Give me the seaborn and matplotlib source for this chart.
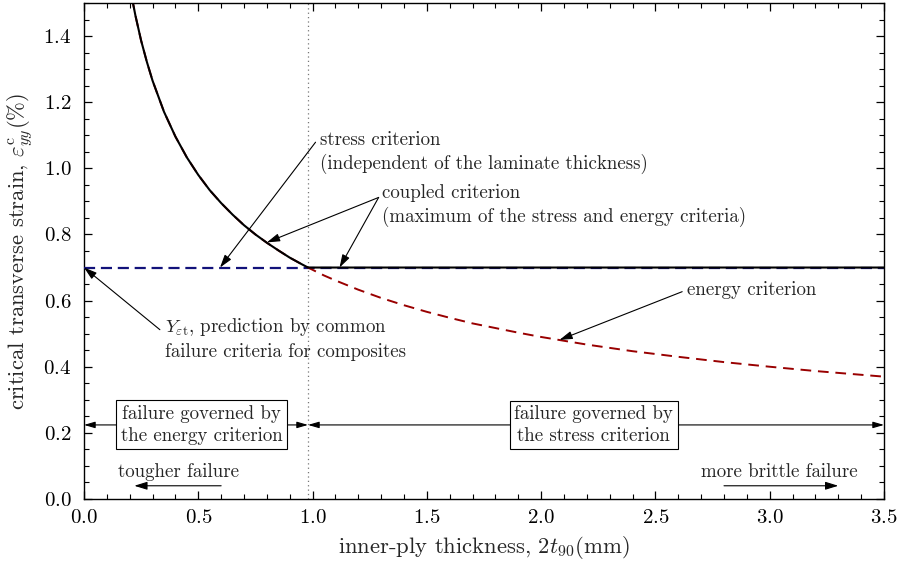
import numpy as np
import matplotlib
matplotlib.use("Agg")
import matplotlib.pyplot as plt
import matplotlib.transforms as mtransforms
from matplotlib.ticker import MultipleLocator
import seaborn as sns

# inner-ply thickness 2*t90 (mm) and critical strain from the energy criterion (%)
thickness = [0.20, 0.225, 0.25, 0.275, 0.30, 0.35, 0.40, 0.45, 0.50, 0.55, 0.60,
             0.65, 0.70, 0.75, 0.80, 0.85, 0.90, 0.95, 0.98, 1.05, 1.10, 1.20,
             1.30, 1.40, 1.50, 1.60, 1.70, 1.80, 1.90, 2.00, 2.20, 2.40, 2.60,
             2.80, 3.00, 3.20, 3.50]
energy_strain = [1.550, 1.462, 1.386, 1.322, 1.265, 1.171, 1.096, 1.033, 0.980,
                 0.934, 0.895, 0.860, 0.828, 0.800, 0.775, 0.752, 0.730, 0.711,
                 0.700, 0.676, 0.661, 0.633, 0.608, 0.586, 0.566, 0.548, 0.531,
                 0.517, 0.503, 0.490, 0.467, 0.447, 0.430, 0.414, 0.400, 0.387,
                 0.370]
# stress criterion: strength-based strain, independent of thickness
stress_strain = 0.70
# transition thickness between energy- and stress-governed failure
transition_t = 0.98

sns.set_theme(style="ticks")
plt.rcParams["font.family"] = ["cmr10"]
plt.rcParams["mathtext.fontset"] = "cm"
plt.rcParams["axes.formatter.use_mathtext"] = True
plt.rcParams["axes.unicode_minus"] = False

t = np.array(thickness)
e_energy = np.array(energy_strain)
e_stress = np.full_like(t, stress_strain)
e_coupled = np.maximum(e_energy, e_stress)

fig = plt.figure(figsize=(8.97, 5.72), dpi=100)
ax = fig.add_axes([84 / 897, 1 - 499 / 572, (884 - 84) / 897, (499 - 3) / 572])

navy = "#12127a"
dred = "#990000"

sns.lineplot(x=[0.0, 3.5], y=[stress_strain, stress_strain], ax=ax, color=navy,
             linewidth=1.6, linestyle=(0, (5, 2.6)), zorder=3)
sns.lineplot(x=t, y=e_energy, ax=ax, color=dred, linewidth=1.4,
             linestyle=(0, (5.5, 3.5)), zorder=3, sort=False)
sns.lineplot(x=t, y=e_coupled, ax=ax, color="black", linewidth=1.5, zorder=4,
             sort=False)

ax.axvline(transition_t, color="#777777", linestyle=(0, (1, 2.5)), linewidth=0.9,
           zorder=2)

ax.set_xlim(0, 3.5)
ax.set_ylim(0, 1.5)
ax.xaxis.set_major_locator(MultipleLocator(0.5))
ax.xaxis.set_minor_locator(MultipleLocator(0.1))
ax.yaxis.set_major_locator(MultipleLocator(0.2))
ax.yaxis.set_minor_locator(MultipleLocator(0.05))
ax.tick_params(which="both", direction="in", top=True, right=True, colors="black",
               labelsize=15)
ax.tick_params(axis="x", which="major", pad=7)
ax.tick_params(axis="y", which="major", pad=9)
ax.tick_params(which="major", length=5.5, width=0.9)
ax.tick_params(which="minor", length=3.5, width=0.8)
for s in ax.spines.values():
    s.set_linewidth(1.0)
    s.set_color("black")

# keep the last x tick label inside the canvas
fig.canvas.draw()
last = ax.get_xticklabels()[-1]
last.set_transform(last.get_transform()
                   + mtransforms.ScaledTranslation(-4 / 72, 0, fig.dpi_scale_trans))

ax.set_xlabel(r"inner-ply thickness, $2t_{90}(\mathrm{mm})$", fontsize=16.3,
              labelpad=5)
ax.set_ylabel(r"critical transverse strain, $\varepsilon_{yy}^{\mathrm{c}}(\%)$",
              fontsize=16.3, labelpad=6)

fs = 13.6
arrow = dict(arrowstyle="-|>,head_length=0.65,head_width=0.2", color="black",
             lw=0.8, shrinkA=0, shrinkB=0)

ax.text(1.031, 1.112, "stress criterion\n(independent of the laminate thickness)",
        fontsize=fs, ha="left", va="top", linespacing=1.3)
ax.annotate("", xy=(0.595, stress_strain), xytext=(1.013, 1.079), arrowprops=arrow)

ax.text(1.302, 0.952, "coupled criterion\n(maximum of the stress and energy criteria)",
        fontsize=fs, ha="left", va="top", linespacing=1.3)
ax.annotate("", xy=(0.80, 0.776), xytext=(1.289, 0.912), arrowprops=arrow)
ax.annotate("", xy=(1.118, stress_strain), xytext=(1.289, 0.912), arrowprops=arrow)

ax.text(2.639, 0.658, "energy criterion", fontsize=fs, ha="left", va="top")
ax.annotate("", xy=(2.08, 0.481), xytext=(2.617, 0.627), arrowprops=arrow)

ax.text(0.354, 0.552,
        r"$Y_{\varepsilon\mathrm{t}}$, prediction by common" + "\nfailure criteria for composites",
        fontsize=fs, ha="left", va="top", linespacing=1.3)
ax.annotate("", xy=(0.0, stress_strain), xytext=(0.332, 0.512), arrowprops=arrow)

# regions governed by each criterion
ybar = 0.224
rng = dict(arrowstyle="<|-|>,head_length=0.55,head_width=0.16", color="black",
           lw=0.8, shrinkA=0, shrinkB=0)
ax.annotate("", xy=(0.0, ybar), xytext=(transition_t, ybar), arrowprops=rng)
ax.annotate("", xy=(transition_t, ybar), xytext=(3.5, ybar), arrowprops=rng)
box = dict(boxstyle="square,pad=0.25", facecolor="white", edgecolor="black", lw=0.8)
ax.text(0.515, ybar, "failure governed by\nthe energy criterion", fontsize=fs,
        ha="center", va="center", bbox=box, linespacing=1.25, zorder=5)
ax.text(2.23, ybar, "failure governed by\nthe stress criterion", fontsize=fs,
        ha="center", va="center", bbox=box, linespacing=1.25, zorder=5)

ax.text(0.15, 0.082, "tougher failure", fontsize=fs, ha="left", va="center")
ax.annotate("", xy=(0.22, 0.04), xytext=(0.6, 0.04), arrowprops=arrow)
ax.text(3.04, 0.082, "more brittle failure", fontsize=fs, ha="center", va="center")
ax.annotate("", xy=(3.3, 0.04), xytext=(2.8, 0.04), arrowprops=arrow)

fig.savefig("out.png", dpi=100)
